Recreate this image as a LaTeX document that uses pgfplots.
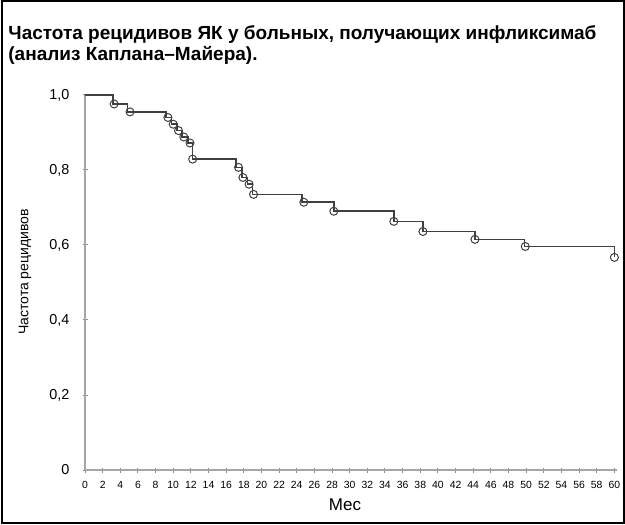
\documentclass[border=0pt]{standalone}
\usepackage{fontspec}
\setmainfont{Liberation Sans}
\usepackage{pgfplots}
\pgfplotsset{compat=1.18}
\begin{document}
\begin{tikzpicture}
\useasboundingbox (0,0) rectangle (312.5pt,262pt);
\draw[line width=1pt] (0.75pt,0.75pt) rectangle (311.75pt,261.25pt);
\node[anchor=base west,inner sep=0pt,font=\bfseries\fontsize{9.5}{11}\selectfont] at (4pt,242pt) {Частота рецидивов ЯК у больных, получающих инфликсимаб};
\node[anchor=base west,inner sep=0pt,font=\bfseries\fontsize{9.5}{11}\selectfont] at (4pt,231.5pt) {(анализ Каплана–Майера).};
\begin{axis}[
  at={(42.5pt,27pt)}, anchor=south west,
  scale only axis, width=266pt, height=187.5pt,
  xmin=0, xmax=60.3, ymin=0, ymax=1,
  axis x line=bottom, axis y line=left,
  axis line style={black!35, line width=0.7pt, -},
  xtick={0,2,...,60},
  ytick={0,0.2,0.4,0.6,0.8,1},
  yticklabels={0,{0,2},{0,4},{0,6},{0,8},{1,0}},
  tick style={black!45, line width=0.5pt},
  tick align=center,
  major tick length=2.5pt,
  xticklabel style={font=\fontsize{5.2}{6}\selectfont, /pgf/number format/assume math mode=true, yshift=-1pt},
  yticklabel style={font=\fontsize{7.2}{8}\selectfont, xshift=-3pt},
  clip=false,
]
\addplot[const plot, black!75, line width=0.8pt] coordinates {
(0,1.0) (3.2,0.976) (4.8,0.955) (9.2,0.94) (9.8,0.922) (10.4,0.905) (11.0,0.888) (11.7,0.872)
(12.2,0.829) (17.1,0.807) (17.8,0.78) (18.4,0.762) (19.0,0.735) (24.6,0.714) (28.2,0.69)
(35.0,0.663) (38.3,0.636) (44.2,0.615) (49.8,0.596) (60,0.567)
};
\addplot[only marks, mark=o, mark size=2pt, black!75, line width=0.5pt] coordinates {
(3.3,0.976) (5.1,0.955) (9.4,0.94) (10.0,0.922) (10.6,0.905) (11.2,0.888) (11.9,0.872)
(12.2,0.829) (17.4,0.807) (17.9,0.78) (18.6,0.762) (19.1,0.735) (24.8,0.714) (28.2,0.69)
(35.0,0.663) (38.3,0.636) (44.2,0.615) (49.9,0.596) (60,0.567)
};
\end{axis}
\node[rotate=90,font=\fontsize{7}{8}\selectfont] at (12.5pt,126pt) {Частота рецидивов};
\node[font=\fontsize{8.5}{10}\selectfont] at (172.5pt,9.5pt) {Мес};
\end{tikzpicture}
\end{document}
